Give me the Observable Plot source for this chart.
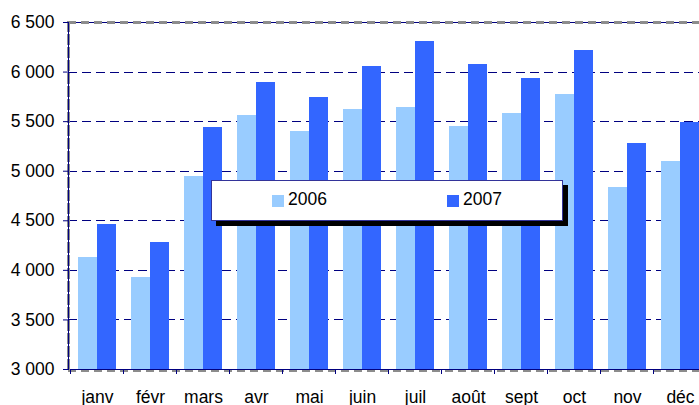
<!DOCTYPE html>
<html>
<head>
<meta charset="utf-8">
<script src="https://cdn.jsdelivr.net/npm/d3@7"></script>
<script src="https://cdn.jsdelivr.net/npm/@observablehq/plot@0.6"></script>
<style>
  html, body { margin: 0; padding: 0; background: #fff; overflow: hidden; }
  #wrap { position: relative; width: 699px; height: 405px; overflow: hidden; font-family: "Liberation Sans", Arial, sans-serif; }
  #chart { width: 708px; }
  #chart svg { display: block; max-width: none !important; }
  #legend { position: absolute; left: 211px; top: 180px; width: 350px; height: 39px; background: #fff; border: 1px solid #333399; box-shadow: 5px 5px 0 #000; }
  .sw { position: absolute; width: 12px; height: 12px; top: 14px; }
  .lt { position: absolute; top: 8px; font-size: 17.5px; line-height: 20px; color: #000; }
</style>
</head>
<body>
<div id="wrap"><div id="chart"></div><div id="legend"></div></div>
<script>
const months = ["janv", "févr", "mars", "avr", "mai", "juin", "juil", "août", "sept", "oct", "nov", "déc"];
const v2006 = [4130, 3930, 4950, 5560, 5400, 5620, 5640, 5450, 5580, 5770, 4840, 5100];
const v2007 = [4460, 4280, 5440, 5890, 5740, 6060, 6310, 6080, 5940, 6220, 5280, 5490];
const years = ["2006", "2007"];
const yTicks = [3000, 3500, 4000, 4500, 5000, 5500, 6000, 6500];
const yMin = 3000, yMax = 6500;

const colors = {"2006": "#99CCFF", "2007": "#3366FF"};
const navy = "#000080";
const gray = "#8c8c8c";

const W = 708, H = 405, mL = 68, mR = 0, mT = 22, mB = 36;
const step = (W - mL - mR) / months.length;
const pInner = 0.287;
const half = step * (1 - pInner) / 2;

const rows = [];
months.forEach((m, i) => {
  rows.push({month: m, year: years[0], value: v2006[i]});
  rows.push({month: m, year: years[1], value: v2007[i]});
});

const fmt = d => d3.format(",")(d).replace(/,/g, " ");
const crisp = {shapeRendering: "crispEdges"};

const chart = Plot.plot({
  width: W, height: H,
  marginLeft: mL, marginRight: mR, marginTop: mT, marginBottom: mB,
  style: {fontFamily: "Liberation Sans, Arial, sans-serif", fontSize: "17.5px", background: "#fff"},
  x: {domain: months, paddingInner: pInner, paddingOuter: pInner / 2, label: null},
  y: {domain: [yMin, yMax], label: null},
  marks: [
    Plot.ruleY(yTicks.filter(t => t > yMin && t < yMax), {y: d => d, stroke: navy, strokeDasharray: "9,5", ...crisp}),
    Plot.ruleY([yMax], {y: d => d, stroke: navy, ...crisp}),
    Plot.ruleY([yMax], {y: d => d, stroke: gray, strokeWidth: 3, strokeDasharray: "8,5", ...crisp}),
    Plot.barY(rows.filter(r => r.year === years[0]), {x: "month", y1: () => yMin, y2: "value", fill: colors["2006"], insetLeft: 0, insetRight: half, ...crisp}),
    Plot.barY(rows.filter(r => r.year === years[1]), {x: "month", y1: () => yMin, y2: "value", fill: colors["2007"], insetLeft: half, insetRight: 0, ...crisp}),
    Plot.ruleY([yMin], {y: d => d, stroke: gray, strokeWidth: 2, strokeDasharray: "8,5", dy: 1, ...crisp}),
    Plot.ruleY([yMin], {y: d => d, stroke: navy, ...crisp}),
    Plot.ruleX(months, {x: d => d, dx: -step / 2, y1: () => yMin, y2: () => yMin, insetBottom: -5, stroke: navy, ...crisp}),
    Plot.frame({anchor: "left", stroke: gray, strokeWidth: 3, strokeDasharray: "8,5", ...crisp}),
    Plot.frame({anchor: "left", stroke: navy, ...crisp}),
    Plot.axisY(yTicks, {tickSize: 5, tickPadding: 9, tickFormat: fmt, stroke: navy, color: "#000", fontSize: 17.5, label: null}),
    Plot.axisX({tickSize: 0, tickPadding: 21, color: "#000", fontSize: 17.5, label: null})
  ]
});
document.getElementById("chart").appendChild(chart);

const legend = document.getElementById("legend");
const legendPos = {"2006": 60, "2007": 235};
years.forEach(y => {
  const sw = document.createElement("div");
  sw.className = "sw";
  sw.style.left = legendPos[y] + "px";
  sw.style.background = colors[y];
  legend.appendChild(sw);
  const t = document.createElement("div");
  t.className = "lt";
  t.style.left = (legendPos[y] + 16) + "px";
  t.textContent = y;
  legend.appendChild(t);
});
</script>
</body>
</html>
